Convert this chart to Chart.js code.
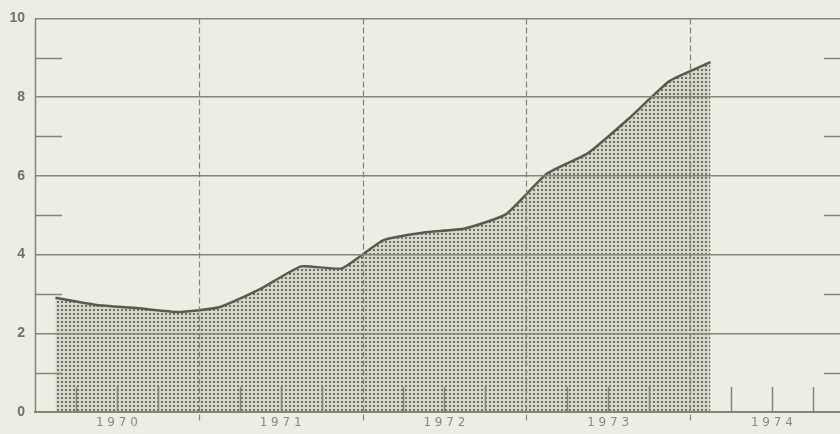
<!DOCTYPE html>
<html>
<head>
<meta charset="utf-8">
<script src="https://cdn.jsdelivr.net/npm/chart.js@4/dist/chart.umd.min.js"></script>
<style>
    html, body { margin: 0; padding: 0; background: #eceee3; }
    #wrap { width: 840px; height: 434px; }
</style>
</head>
<body>
<div id="wrap"><canvas id="trendChart" width="840" height="434"></canvas></div>
<script>
// quarterly values, plotted at the middle of each quarter
const quarters = [
    "1970 Q1", "1970 Q2", "1970 Q3", "1970 Q4",
    "1971 Q1", "1971 Q2", "1971 Q3", "1971 Q4",
    "1972 Q1", "1972 Q2", "1972 Q3", "1972 Q4",
    "1973 Q1", "1973 Q2", "1973 Q3", "1973 Q4",
    "1974 Q1"
];
const values = [
    2.90, 2.72, 2.64, 2.54,
    2.66, 3.12, 3.70, 3.65,
    4.36, 4.56, 4.66, 5.02,
    6.05, 6.57, 7.45, 8.41,
    8.89
];
const years = ["1970", "1971", "1972", "1973", "1974"];
const yMajor = [0, 2, 4, 6, 8, 10];
const yMinor = [1, 3, 5, 7, 9];

const firstYear = Number(years[0]);
const points = quarters.map((q, i) => {
    const y = Number(q.slice(0, 4));
    const n = Number(q.slice(-1));
    return { x: y + (n - 0.5) / 4, y: values[i] };
});

const lineColor = "#585c4e";
const gridColor = "#828775";
const textColor = "#6f7366";

// dotted screen for the filled area
function dotPattern() {
    const c = document.createElement("canvas");
    c.width = 4;
    c.height = 4;
    const g = c.getContext("2d");
    g.fillStyle = "#d6d8cc";
    g.fillRect(0, 0, 4, 4);
    g.fillStyle = "#6f7365";
    g.fillRect(1, 1, 2, 2);
    return g.createPattern(c, "repeat");
}

const paperPlugin = {
    id: "paper",
    beforeDraw(chart) {
        const ctx = chart.ctx;
        ctx.save();
        ctx.fillStyle = "#eceee3";
        ctx.fillRect(0, 0, chart.width, chart.height);
        ctx.restore();
    },
    afterDatasetsDraw(chart) {
        const ctx = chart.ctx;
        const xs = chart.scales.x;
        const ys = chart.scales.y;
        const area = chart.chartArea;
        ctx.save();
        ctx.strokeStyle = gridColor;

        // left axis line
        ctx.lineWidth = 1.5;
        ctx.beginPath();
        ctx.moveTo(area.left + 0.5, area.top);
        ctx.lineTo(area.left + 0.5, area.bottom);
        ctx.stroke();

        // dashed year boundaries
        ctx.lineWidth = 1.2;
        ctx.setLineDash([6, 3]);
        years.slice(1).forEach(yr => {
            const px = Math.round(xs.getPixelForValue(Number(yr))) + 0.5;
            ctx.beginPath();
            ctx.moveTo(px, area.top);
            ctx.lineTo(px, area.bottom + 9);
            ctx.stroke();
        });
        ctx.setLineDash([]);

        // quarter ticks on the bottom axis
        ctx.lineWidth = 1.5;
        years.forEach(yr => {
            [0.25, 0.5, 0.75].forEach(f => {
                const px = Math.round(xs.getPixelForValue(Number(yr) + f)) + 0.5;
                if (px > area.right) return;
                ctx.beginPath();
                ctx.moveTo(px, area.bottom);
                ctx.lineTo(px, area.bottom - 25);
                ctx.stroke();
            });
        });

        // minor ticks on both sides
        yMinor.forEach(v => {
            const py = Math.round(ys.getPixelForValue(v)) + 0.5;
            ctx.beginPath();
            ctx.moveTo(area.left, py);
            ctx.lineTo(area.left + 27, py);
            ctx.moveTo(area.right - 16, py);
            ctx.lineTo(area.right, py);
            ctx.stroke();
        });
        ctx.restore();
    }
};

const trendChart = new Chart(document.getElementById("trendChart"), {
    type: "line",

    data: {
        datasets: [{
            data: points,
            borderColor: lineColor,
            borderWidth: 2.5,
            backgroundColor: dotPattern(),
            fill: "origin",
            tension: 0.15,
            pointRadius: 0
        }]
    },

    options: {
        responsive: false,
        animation: false,
        layout: {
            padding: { top: 15, right: 0, left: 0, bottom: 0 }
        },

        plugins: {
            legend: { display: false },
            tooltip: { enabled: false }
        },

        scales: {
            x: {
                type: "linear",
                min: firstYear,
                max: firstYear + 4.916,
                afterFit: scale => { scale.height = 22; },
                afterBuildTicks: scale => {
                    scale.ticks = years.map(yr => ({ value: Number(yr) + 0.5 }));
                },
                ticks: {
                    color: "#878a7d",
                    padding: 4,
                    autoSkip: false,
                    maxRotation: 0,
                    font: { family: "DejaVu Sans", size: 12 },
                    callback: v => String(Math.floor(v)).split("").join(" ")
                },
                grid: { display: false, drawTicks: false },
                border: { display: true, color: gridColor, width: 2 }
            },

            y: {
                min: 0,
                max: 10,
                afterFit: scale => { scale.width = 35; },
                afterBuildTicks: scale => {
                    scale.ticks = yMajor.map(v => ({ value: v }));
                },
                ticks: {
                    color: textColor,
                    padding: 10,
                    font: { family: "Liberation Sans", size: 14, weight: "bold" }
                },
                grid: {
                    color: gridColor,
                    lineWidth: 1.5,
                    drawTicks: false,
                    z: 1
                },
                border: { display: false }
            }
        }
    },

    plugins: [paperPlugin]
});
</script>
</body>
</html>
